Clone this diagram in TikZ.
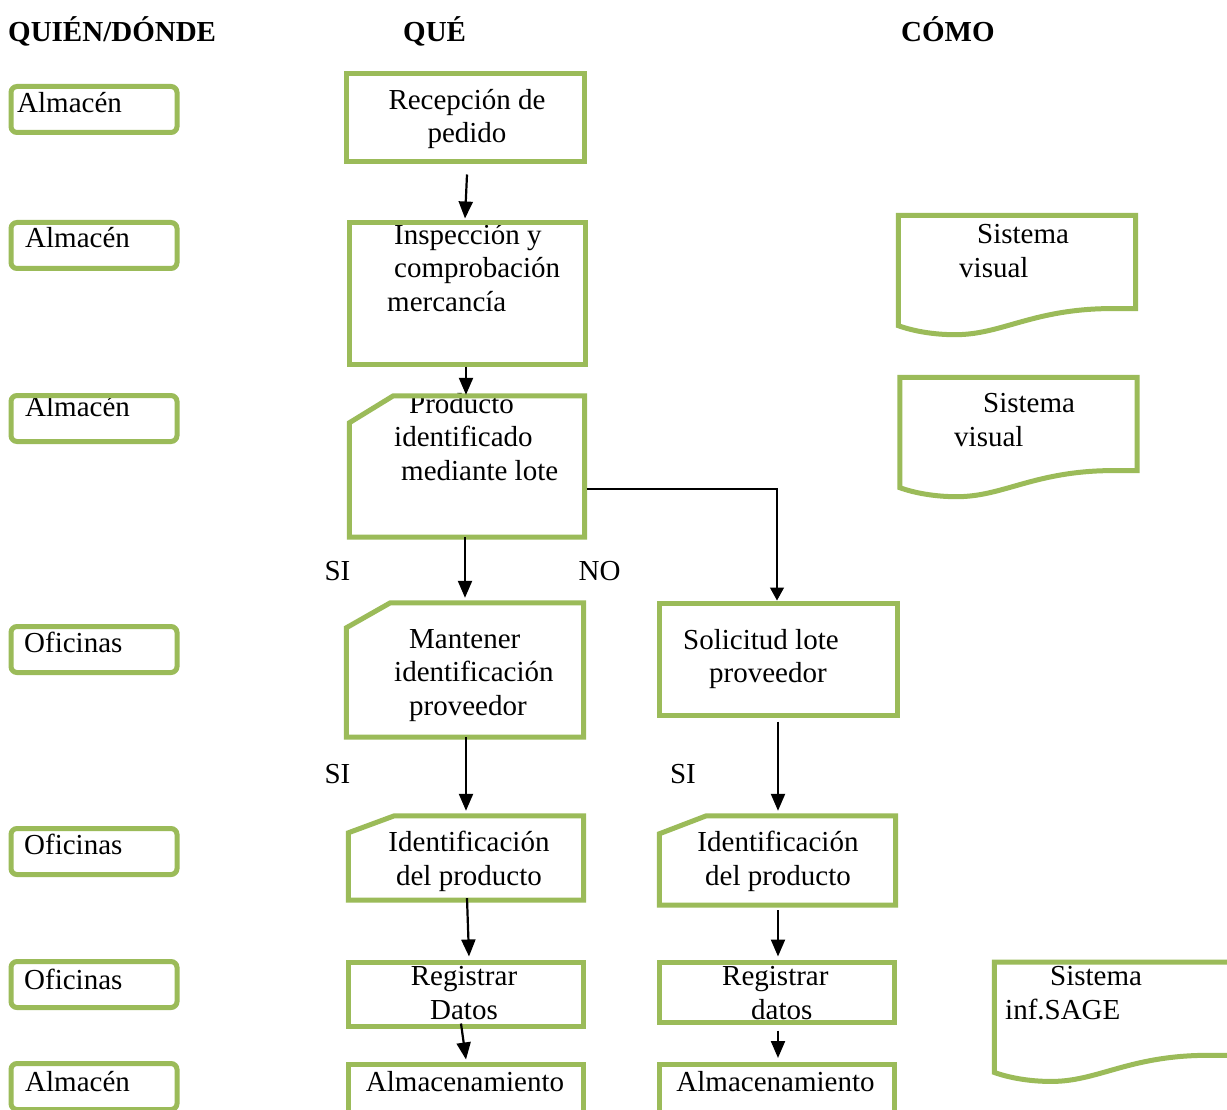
\documentclass[tikz,border=0pt]{standalone}
\usepackage{fontspec}
\setmainfont{Liberation Serif}
\usetikzlibrary{arrows.meta,calc}
\definecolor{hojaverde}{HTML}{9BBB59}

\newcommand{\txtsize}{\fontsize{29}{33.7}\selectfont}
% card outline (cut top-left corner) round a node
\newcommand{\cardline}[3]{%
  \draw[verde] ($(#1.north west)+(#2,0)$) -- (#1.north east) -- (#1.south east)
    -- (#1.south west) -- ($(#1.north west)+(0,#3)$) -- cycle;}
% document outline (wavy bottom) round a node
\newcommand{\docline}[1]{%
  \draw[verde] (#1.south east) -- (#1.north east) -- (#1.north west) -- ($(#1.south west)+(0,17)$)
    .. controls ($(#1.south west)+(14,22)$) and ($(#1.south west)+(34,26)$) .. ($(#1.south west)+(57,26)$)
    .. controls ($(#1.south west)+(102,26)$) and ($(#1.south east)+(-105,2)$) .. ($(#1.south east)+(-33,0)$)
    -- cycle;}

\begin{document}
\begin{tikzpicture}[x=1pt, y=-1pt,
    verde/.style={draw=hojaverde, line width=5pt},
    quien/.style={verde, rounded corners=6pt, inner sep=0pt, minimum width=166pt, minimum height=46pt},
    caja/.style={verde, rectangle, inner sep=0pt},
    hueco/.style={rectangle, inner sep=0pt},
    texto/.style={anchor=north west, inner sep=0pt, align=left, font=\txtsize, yshift=20.6pt, execute at begin node=\strut},
    textoc/.style={texto, anchor=north, align=center},
    cabecera/.style={anchor=base west, inner sep=0pt, font=\txtsize\bfseries},
    etiqueta/.style={anchor=base, inner sep=0pt, font=\txtsize},
    flecha/.style={line width=2.2pt, -{Triangle[length=17pt,width=14pt]}},
    flechafina/.style={line width=1.3pt, -{Triangle[length=13pt,width=14pt]}}]
    \useasboundingbox (0,0) rectangle (1227,1110);
    \clip (0,0) rectangle (1227,1110);
    \fill[white] (0,0) rectangle (1227,1110);

    % Headers
    \node[cabecera] (hquien) at (8,42) {QUIÉN/DÓNDE};
    \node[cabecera] (hque) at (403,42) {QUÉ};
    \node[cabecera] (hcomo) at (901,42) {CÓMO};

    % Who / where column
    \foreach \n/\x/\ty/\y/\t in {q1/17/109.5/109.5/Almacén, q2/25/244.5/245.5/Almacén, q3/25/413.5/418.5/Almacén,
        q4/24/649.5/649.5/Oficinas, q5/24/851.5/851.5/Oficinas, q6/24/986.5/984.5/Oficinas, q7/25/1088.5/1086.5/Almacén} {
      \node[texto] (t\n) at (\x,\ty) {\t};
      \node[quien] (\n) at (94,\y) {};
    }

    % What: texts
    \node[textoc] (trec) at (467,109.5) {Recepción de\\pedido};
    \node[texto] (tinsp) at (387,244.5) {\hspace*{7pt}Inspección y\\\hspace*{7pt}comprobación\\mercancía};
    \node[texto] (tprod) at (394,413.5) {\hspace*{15pt}Producto\\identificado\\\hspace*{7pt}mediante lote};
    \node[texto] (tmant) at (394,649.5) {\hspace*{15pt}Mantener\\identificación\\\hspace*{15pt}proveedor};
    \node[texto] (tsol) at (683,649.5) {Solicitud lote\\\hspace*{26pt}proveedor};
    \node[textoc] (tidA) at (469,851.5) {Identificación\\del producto};
    \node[textoc] (tidB) at (778,851.5) {Identificación\\del producto};
    \node[textoc] (tregA) at (464,986.5) {Registrar\\Datos};
    \node[texto] (tregB) at (722,986.5) {Registrar\\\hspace*{29pt}datos};
    \node[textoc] (talmA) at (465,1088.5) {Almacenamiento};
    \node[textoc] (talmB) at (775.5,1088.5) {Almacenamiento};

    % What: boxes
    \node[caja, minimum width=238pt, minimum height=88pt] (rec) at (465.5,118) {};
    \node[caja, minimum width=236pt, minimum height=141pt] (insp) at (467.5,293.5) {};
    \node[hueco, minimum width=235pt, minimum height=141pt] (prod) at (467,466.5) {};
    \cardline{prod}{44}{27}
    \node[hueco, minimum width=237pt, minimum height=134pt] (mant) at (465,670) {};
    \cardline{mant}{44}{25}
    \node[caja, minimum width=238pt, minimum height=112pt] (sol) at (778.5,659) {};
    \node[hueco, minimum width=235pt, minimum height=84pt] (idA) at (466,858) {};
    \cardline{idA}{46}{17}
    \node[hueco, minimum width=236pt, minimum height=89pt] (idB) at (777.5,860.5) {};
    \cardline{idB}{47}{18}
    \node[caja, minimum width=235pt, minimum height=64pt] (regA) at (466,994) {};
    \node[caja, minimum width=235pt, minimum height=60pt] (regB) at (777,992) {};
    \node[caja, minimum width=235pt, minimum height=80pt] (almA) at (466,1104.5) {};
    \node[caja, minimum width=235pt, minimum height=80pt] (almB) at (777,1104.5) {};

    % How
    \node[texto] (tsis1) at (959,244.5) {\hspace*{18pt}Sistema\\visual};
    \node[texto] (tsis2) at (954,413.5) {\hspace*{29pt}Sistema\\visual};
    \node[texto] (tsis3) at (1005,986.5) {\hspace*{45pt}Sistema\\inf.SAGE};
    \node[hueco, minimum width=237pt, minimum height=93pt] (sis1) at (1017,262) {};
    \docline{sis1}
    \node[hueco, minimum width=237pt, minimum height=93pt] (sis2) at (1018.5,424) {};
    \docline{sis2}
    \node[hueco, minimum width=237pt, minimum height=93pt] (sis3) at (1113,1008.75) {};
    \docline{sis3}

    % Decisions
    \node[etiqueta] (si1) at (337.5,580.5) {SI};
    \node[etiqueta] (no1) at (599.5,580.5) {NO};
    \node[etiqueta] (si2) at (337.5,783.5) {SI};
    \node[etiqueta] (si3) at (683,783.5) {SI};

    % Arrows
    \draw[flecha] ([xshift=1.5pt,yshift=-10pt]rec.south) -- ([xshift=-2.5pt,yshift=2pt]insp.north);
    \draw[flecha] ([xshift=-1.5pt]insp.south) -- ([xshift=-1pt,yshift=1pt]prod.north);
    \draw[flecha] ([xshift=-2pt]prod.south) -- ([yshift=5pt]mant.north);
    \draw[flechafina] ([xshift=2pt,yshift=-22.5pt]prod.east) -| ([xshift=-1.5pt]sol.north);
    \draw[flecha] ([xshift=1pt]mant.south) -- ([yshift=5pt]idA.north);
    \draw[flecha] ([xshift=-0.5pt,yshift=-4pt]sol.south) -- ([xshift=0.5pt,yshift=5pt]idB.north);
    \draw[flecha] ([xshift=1pt,yshift=2pt]idA.south) -- ([xshift=3pt,yshift=3pt]regA.north);
    \draw[flecha] ([xshift=0.5pt,yshift=-5pt]idB.south) -- ([xshift=1pt,yshift=3pt]regB.north);
    \draw[flecha] ([xshift=-5pt,yshift=5pt]regA.south) -- ([yshift=2.5pt]almA.north);
    \draw[flecha] ([xshift=1pt,yshift=-6pt]regB.south) -- ([xshift=1pt,yshift=4pt]almB.north);
\end{tikzpicture}
\end{document}
